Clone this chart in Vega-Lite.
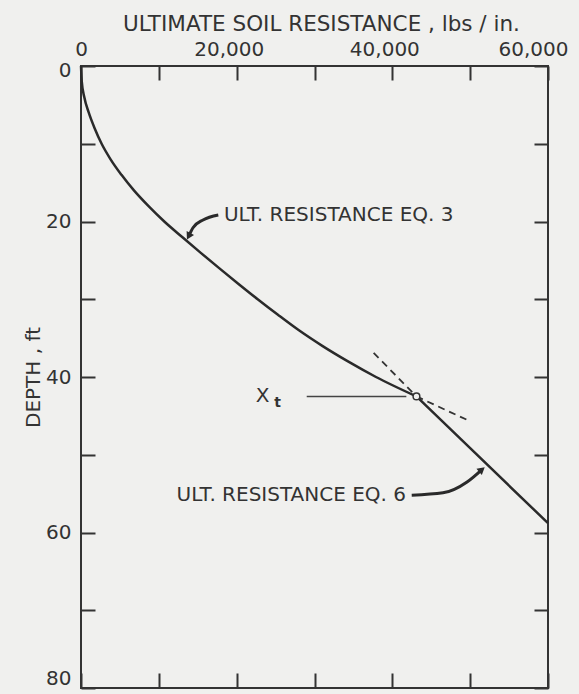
{
  "$schema": "https://vega.github.io/schema/vega-lite/v6.json",
  "width": 467,
  "height": 622,
  "autosize": "none",
  "padding": {"left": 81, "top": 66, "right": 31, "bottom": 6},
  "background": "#f0f0ee",
  "config": {
    "view": {"stroke": "#333333", "strokeWidth": 2},
    "font": "DejaVu Sans",
    "text": {"font": "DejaVu Sans", "color": "#333333"}
  },
  "datasets": {
    "eq3": [
      {"x": 0, "d": 0}, {"x": 100, "d": 2}, {"x": 420, "d": 4}, {"x": 1000, "d": 6},
      {"x": 1750, "d": 8}, {"x": 2650, "d": 10}, {"x": 3800, "d": 12}, {"x": 5200, "d": 14},
      {"x": 6800, "d": 16}, {"x": 8650, "d": 18}, {"x": 10700, "d": 20}, {"x": 13000, "d": 22},
      {"x": 15350, "d": 24}, {"x": 17750, "d": 26}, {"x": 20200, "d": 28}, {"x": 22700, "d": 30},
      {"x": 25300, "d": 32}, {"x": 28000, "d": 34}, {"x": 31000, "d": 36}, {"x": 34300, "d": 38},
      {"x": 37900, "d": 40}, {"x": 43100, "d": 42.5}
    ],
    "eq6": [
      {"x": 43100, "d": 42.5}, {"x": 48800, "d": 48}, {"x": 60000, "d": 58.8}
    ],
    "dash": [
      {"x": 37600, "d": 36.9, "s": "a"}, {"x": 43100, "d": 42.5, "s": "a"},
      {"x": 43100, "d": 42.5, "s": "b"}, {"x": 50000, "d": 45.7, "s": "b"}
    ],
    "xtline": [
      {"x": 29000, "d": 42.5}, {"x": 41800, "d": 42.5}
    ],
    "xtpoint": [{"x": 43100, "d": 42.5}],
    "arrows": [
      {"x": 17640, "d": 19.16, "s": "a", "i": 1}, {"x": 15680, "d": 19.8, "s": "a", "i": 2},
      {"x": 14390, "d": 20.8, "s": "a", "i": 3}, {"x": 13830, "d": 21.9, "s": "a", "i": 4},
      {"x": 42490, "d": 55.2, "s": "b", "i": 1}, {"x": 46510, "d": 54.9, "s": "b", "i": 2},
      {"x": 49600, "d": 53.5, "s": "b", "i": 3}, {"x": 51510, "d": 51.9, "s": "b", "i": 4}
    ],
    "heads": [
      {"x": 13830, "d": 21.9, "a": 208},
      {"x": 51510, "d": 51.9, "a": 50}
    ]
  },
  "layer": [
    {
      "data": {"name": "eq3"},
      "mark": {"type": "line", "color": "#2a2a2a", "strokeWidth": 2.5, "interpolate": "monotone"},
      "encoding": {
        "x": {
          "field": "x", "type": "quantitative",
          "scale": {"domain": [0, 60000], "nice": false, "zero": false},
          "axis": {
            "orient": "top",
            "values": [0, 10000, 20000, 30000, 40000, 50000, 60000],
            "labelExpr": "datum.value % 20000 == 0 ? format(datum.value, ',') : ''",
            "grid": false, "domain": false,
            "tickSize": -14, "tickWidth": 2, "tickColor": "#333333",
            "labelFontSize": 20, "labelColor": "#333333",
            "labelPadding": 25, "labelBaseline": "alphabetic",
            "labelFlush": false, "labelOverlap": false, "labelAlign": "center",
            "labelOffset": {"condition": [{"test": "datum.value == 0", "value": 0}, {"test": "datum.value == 60000", "value": -15}], "value": -8},
            "title": "ULTIMATE SOIL RESISTANCE , lbs / in.",
            "titleFontSize": 21.5, "titleFontWeight": "normal", "titleColor": "#333333",
            "titleY": -36, "titleX": 240, "titleBaseline": "alphabetic"
          }
        },
        "y": {
          "field": "d", "type": "quantitative",
          "scale": {"domain": [0, 80], "nice": false, "reverse": true},
          "axis": {
            "orient": "left",
            "values": [0, 10, 20, 30, 40, 50, 60, 70, 80],
            "labelExpr": "datum.value % 20 == 0 ? datum.label : ''",
            "grid": false, "domain": false,
            "tickSize": -14, "tickWidth": 2, "tickColor": "#333333",
            "labelFontSize": 20, "labelColor": "#333333",
            "labelPadding": 24, "labelAlign": "right",
            "labelBaseline": {"condition": [{"test": "datum.value == 80", "value": "bottom"}], "value": "middle"},
            "labelOffset": {"condition": [{"test": "datum.value == 0", "value": 4}], "value": 0},
            "labelFlush": false, "labelOverlap": false,
            "title": "DEPTH , ft",
            "titleFontSize": 20, "titleFontWeight": "normal", "titleColor": "#333333",
            "titleX": -42, "titleBaseline": "alphabetic"
          }
        }
      }
    },
    {
      "data": {"name": "eq6"},
      "mark": {"type": "line", "color": "#2a2a2a", "strokeWidth": 2.5},
      "encoding": {
        "x": {
          "field": "x", "type": "quantitative",
          "axis": {
            "orient": "bottom",
            "values": [0, 10000, 20000, 30000, 40000, 50000, 60000],
            "labels": false, "grid": false, "domain": false, "title": null,
            "tickSize": -15, "tickWidth": 2, "tickColor": "#333333"
          }
        },
        "y": {
          "field": "d", "type": "quantitative",
          "axis": {
            "orient": "right",
            "values": [0, 10, 20, 30, 40, 50, 60, 70, 80],
            "labels": false, "grid": false, "domain": false, "title": null,
            "tickSize": -14, "tickWidth": 2, "tickColor": "#333333"
          }
        }
      }
    },
    {
      "data": {"name": "dash"},
      "mark": {"type": "line", "color": "#333333", "strokeWidth": 1.8, "strokeDash": [7, 5]},
      "encoding": {
        "x": {"field": "x", "type": "quantitative", "axis": null},
        "y": {"field": "d", "type": "quantitative", "axis": null},
        "detail": {"field": "s"}
      }
    },
    {
      "data": {"name": "xtline"},
      "mark": {"type": "line", "color": "#444444", "strokeWidth": 1.6},
      "encoding": {
        "x": {"field": "x", "type": "quantitative", "axis": null},
        "y": {"field": "d", "type": "quantitative", "axis": null}
      }
    },
    {
      "data": {"name": "xtpoint"},
      "mark": {"type": "point", "shape": "circle", "size": 45, "filled": true, "fill": "#f0f0ee", "stroke": "#333333", "strokeWidth": 1.5, "opacity": 1},
      "encoding": {
        "x": {"field": "x", "type": "quantitative", "axis": null},
        "y": {"field": "d", "type": "quantitative", "axis": null}
      }
    },
    {
      "data": {"name": "arrows"},
      "mark": {"type": "line", "color": "#2a2a2a", "strokeWidth": 3, "interpolate": "monotone"},
      "encoding": {
        "x": {"field": "x", "type": "quantitative", "axis": null},
        "y": {"field": "d", "type": "quantitative", "axis": null},
        "detail": {"field": "s"},
        "order": {"field": "i"}
      }
    },
    {
      "data": {"name": "heads"},
      "mark": {"type": "point", "shape": "triangle-up", "size": 70, "filled": true, "color": "#2a2a2a", "opacity": 1},
      "encoding": {
        "x": {"field": "x", "type": "quantitative", "axis": null},
        "y": {"field": "d", "type": "quantitative", "axis": null},
        "angle": {"field": "a", "type": "quantitative", "scale": null}
      }
    },
    {
      "data": {"values": [{"x": 18370, "d": 19.16, "t": "ULT. RESISTANCE EQ. 3"}]},
      "mark": {"type": "text", "fontSize": 20, "baseline": "middle", "align": "left"},
      "encoding": {
        "x": {"field": "x", "type": "quantitative", "axis": null},
        "y": {"field": "d", "type": "quantitative", "axis": null},
        "text": {"field": "t"}
      }
    },
    {
      "data": {"values": [{"x": 41760, "d": 55.2, "t": "ULT. RESISTANCE EQ. 6"}]},
      "mark": {"type": "text", "fontSize": 20, "baseline": "middle", "align": "right"},
      "encoding": {
        "x": {"field": "x", "type": "quantitative", "axis": null},
        "y": {"field": "d", "type": "quantitative", "axis": null},
        "text": {"field": "t"}
      }
    },
    {
      "data": {"values": [{"x": 23320, "d": 42.45, "t": "X"}]},
      "mark": {"type": "text", "fontSize": 20, "baseline": "middle", "align": "center"},
      "encoding": {
        "x": {"field": "x", "type": "quantitative", "axis": null},
        "y": {"field": "d", "type": "quantitative", "axis": null},
        "text": {"field": "t"}
      }
    },
    {
      "data": {"values": [{"x": 25250, "d": 43.4, "t": "t"}]},
      "mark": {"type": "text", "fontSize": 14, "baseline": "middle", "align": "center", "fontWeight": "bold"},
      "encoding": {
        "x": {"field": "x", "type": "quantitative", "axis": null},
        "y": {"field": "d", "type": "quantitative", "axis": null},
        "text": {"field": "t"}
      }
    }
  ],
  "resolve": {"axis": {"x": "independent", "y": "independent"}}
}
